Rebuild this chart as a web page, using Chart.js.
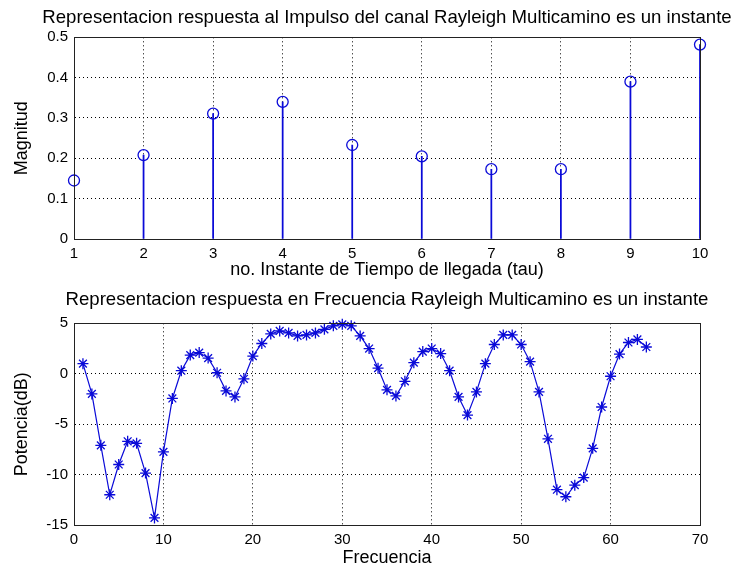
<!DOCTYPE html>
<html>
<head>
<meta charset="utf-8">
<script src="https://cdn.jsdelivr.net/npm/chart.js@4.4.0/dist/chart.umd.min.js"></script>
<style>
html,body{margin:0;padding:0;background:#fff;overflow:hidden;width:736px;height:575px;}
#w1{position:absolute;left:0;top:0;width:774px;height:287px;}
#w2{position:absolute;left:0;top:287px;width:774px;height:288px;}
</style>
</head>
<body>
<div id="w1"><canvas id="c1"></canvas></div>
<div id="w2"><canvas id="c2"></canvas></div>
<script>
// ---- data ----
const tauInstants = [1, 2, 3, 4, 5, 6, 7, 8, 9, 10];
const magnitudes = [0.145, 0.208, 0.311, 0.340, 0.233, 0.205, 0.173, 0.173, 0.390, 0.482];

const freqIndex = [1, 2, 3, 4, 5, 6, 7, 8, 9, 10, 11, 12, 13, 14, 15, 16,
  17, 18, 19, 20, 21, 22, 23, 24, 25, 26, 27, 28, 29, 30, 31, 32,
  33, 34, 35, 36, 37, 38, 39, 40, 41, 42, 43, 44, 45, 46, 47, 48,
  49, 50, 51, 52, 53, 54, 55, 56, 57, 58, 59, 60, 61, 62, 63, 64];
const powerDb = [1.0, -2.0, -7.1, -12.0, -9.0, -6.7, -6.9, -9.85, -14.3, -7.75, -2.45, 0.3, 1.85, 2.1, 1.55, 0.1,
  -1.7, -2.3, -0.5, 1.75, 3.0, 3.95, 4.25, 4.05, 3.75, 3.85, 4.05, 4.4, 4.75, 4.9, 4.75, 3.75,
  2.5, 0.55, -1.6, -2.2, -0.75, 1.1, 2.2, 2.5, 2.0, 0.3, -2.3, -4.1, -1.8, 1.0, 2.9, 3.85,
  3.85, 2.9, 1.2, -1.8, -6.45, -11.5, -12.2, -11.05, -10.3, -7.4, -3.3, -0.25, 1.95, 3.1, 3.4, 2.65];

const title1 = 'Representacion respuesta al Impulso del canal Rayleigh Multicamino es un instante';
const xLabel1 = 'no. Instante de Tiempo de llegada (tau)';
const yLabel1 = 'Magnitud';
const title2 = 'Representacion respuesta en Frecuencia Rayleigh Multicamino es un instante';
const xLabel2 = 'Frecuencia';
const yLabel2 = 'Potencia(dB)';

// ---- styling ----
const FAMILY = "'Liberation Sans', Arial, Helvetica, sans-serif";
const BLUE = '#0a0ad8';
const AXIS = '#222';
Chart.defaults.color = '#000';
Chart.defaults.font.family = FAMILY;
Chart.defaults.animation = false;

const dotted = { color: '#000', lineWidth: 1, drawTicks: false };
const tickFont = { size: 15, family: FAMILY, weight: 'normal' };
const labFont = { size: 18, family: FAMILY, weight: 'normal' };
const titleFont = { size: 18.6, family: FAMILY, weight: 'normal' };

function boxAxes(xMin, xMax, xStep, yMin, yMax, yStep, xTitle, yTitle, xh) {
  return {
    x: {
      type: 'linear', position: 'bottom', min: xMin, max: xMax, offset: false,
      ticks: { stepSize: xStep, font: tickFont, padding: 6, maxRotation: 0, autoSkip: false },
      grid: Object.assign({ offset: false }, dotted),
      border: { display: true, color: AXIS, width: 1, dash: [1, 3] },
      title: { display: true, text: xTitle, font: labFont, padding: { top: 0, bottom: 6 } },
      afterFit: s => { s.height = xh; }
    },
    x2: {
      type: 'linear', position: 'top', min: xMin, max: xMax,
      ticks: { display: false },
      grid: { drawOnChartArea: false, drawTicks: false },
      border: { display: true, color: AXIS, width: 1 },
      afterFit: s => { s.height = 0; }
    },
    y: {
      type: 'linear', position: 'left', min: yMin, max: yMax,
      ticks: { stepSize: yStep, font: tickFont, padding: 6 },
      grid: dotted,
      border: { display: true, color: AXIS, width: 1, dash: [1, 3] },
      title: { display: true, text: yTitle, font: labFont, padding: { top: 11, bottom: 0 } },
      afterFit: s => { s.width = 74; }
    },
    y2: {
      type: 'linear', position: 'right', min: yMin, max: yMax,
      ticks: { display: false },
      grid: { drawOnChartArea: false, drawTicks: false },
      border: { display: false },
      afterFit: s => { s.width = 74; }
    }
  };
}

// solid box frame drawn over dotted edge grid lines
const frame = {
  id: 'frame',
  afterDatasetsDraw(chart) {
    const a = chart.chartArea, ctx = chart.ctx;
    ctx.save();
    ctx.strokeStyle = AXIS; ctx.lineWidth = 1;
    ctx.strokeRect(Math.round(a.left) + 0.5, Math.round(a.top) + 0.5,
      Math.round(a.right - a.left), Math.round(a.bottom - a.top));
    ctx.restore();
  }
};

// ---- chart 1: stem plot ----
new Chart(document.getElementById('c1'), {
  type: 'bar',
  data: {
    datasets: [
      {
        type: 'bar',
        data: magnitudes.map((v, i) => ({ x: tauInstants[i], y: v })),
        backgroundColor: BLUE, borderWidth: 0, barThickness: 1.1,
        xAxisID: 'x', yAxisID: 'y', order: 2
      },
      {
        type: 'scatter',
        data: magnitudes.map((v, i) => ({ x: tauInstants[i], y: v })),
        showLine: false, pointStyle: 'circle', pointRadius: 5.5,
        pointBorderColor: BLUE, pointBackgroundColor: 'rgba(255,255,255,0)',
        pointBorderWidth: 1.3, clip: false,
        xAxisID: 'x', yAxisID: 'y', order: 1
      }
    ]
  },
  options: {
    responsive: true, maintainAspectRatio: false,
    layout: { padding: 0 },
    plugins: {
      legend: { display: false }, tooltip: { enabled: false },
      title: { display: true, text: title1, font: titleFont, color: '#000', padding: { top: 7, bottom: 8 } }
    },
    scales: boxAxes(1, 10, 1, 0, 0.5, 0.1, xLabel1, yLabel1, 48)
  },
  plugins: [frame]
});

// ---- chart 2: frequency response ----
new Chart(document.getElementById('c2'), {
  type: 'line',
  data: {
    datasets: [{
      data: powerDb.map((v, i) => ({ x: freqIndex[i], y: v })),
      borderColor: BLUE, borderWidth: 1.2, tension: 0,
      pointStyle: 'star', pointRadius: 5.5, pointBorderColor: BLUE,
      pointBackgroundColor: BLUE, pointBorderWidth: 1.3, clip: false
    }]
  },
  options: {
    responsive: true, maintainAspectRatio: false,
    layout: { padding: 0 },
    plugins: {
      legend: { display: false }, tooltip: { enabled: false },
      title: { display: true, text: title2, font: titleFont, color: '#000', padding: { top: 2, bottom: 12 } }
    },
    scales: boxAxes(0, 70, 10, -15, 5, 5, xLabel2, yLabel2, 50)
  },
  plugins: [frame]
});
</script>
</body>
</html>
